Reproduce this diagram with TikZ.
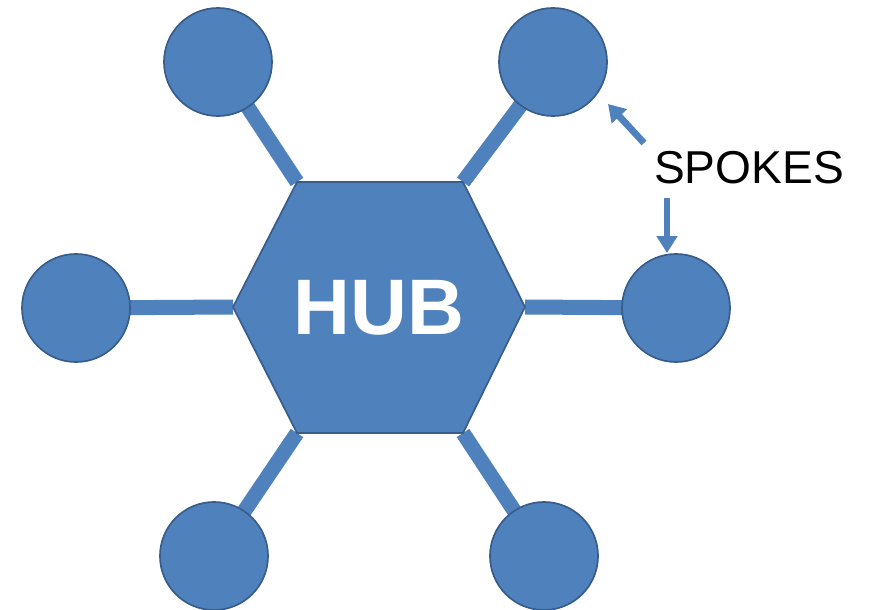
\documentclass[tikz,border=0pt]{standalone}
\usepackage{fontspec}
\setmainfont{Liberation Sans}
\usetikzlibrary{arrows.meta}
\usetikzlibrary{backgrounds}
\definecolor{hubblue}{HTML}{4F81BD}
\definecolor{hubedge}{HTML}{385D8A}

\begin{document}
\begin{tikzpicture}[x=0.025cm, y=-0.025cm,
        rim/.style={circle, fill=hubblue, draw=hubedge, line width=1.2pt, minimum size=2.7cm, inner sep=0pt},
        spoke/.style={hubblue, line width=0.375cm},
        pointer/.style={hubblue, line width=0.17cm, -{Triangle[width=0.5cm, length=0.42cm]}}]
            \useasboundingbox (0, 0) rectangle (874, 610);
            % hub corners
            \coordinate (hub-w) at (233, 307);
            \coordinate (hub-nw) at (297, 182);
            \coordinate (hub-ne) at (463, 182);
            \coordinate (hub-e) at (525, 307);
            \coordinate (hub-se) at (463, 433);
            \coordinate (hub-sw) at (297, 433);
            \draw [fill=hubblue, draw=hubedge, line width=1.2pt, line join=round]
                (hub-w) -- (hub-nw) -- (hub-ne) -- (hub-e) -- (hub-se) -- (hub-sw) -- cycle;
            \node [text=white, font=\fontsize{56}{60}\selectfont\bfseries] (hub) at (379, 308) {HUB};
            % wheels
            \node [rim] (c-nw) at (218, 62) {};
            \node [rim] (c-ne) at (553, 62) {};
            \node [rim] (c-w) at (76, 308) {};
            \node [rim] (c-e) at (676, 308) {};
            \node [rim] (c-sw) at (214, 556) {};
            \node [rim] (c-se) at (544, 556) {};
            \begin{scope}[on background layer]
                \draw [spoke] (hub-nw) -- (c-nw.center);
                \draw [spoke] (hub-ne) -- (c-ne.center);
                \draw [spoke] (hub-w) -- (c-w.center);
                \draw [spoke] (hub-e) -- (c-e.center);
                \draw [spoke] (hub-sw) -- (c-sw.center);
                \draw [spoke] (hub-se) -- (c-se.center);
            \end{scope}
            % label
            \node [font=\fontsize{32.8}{36}\selectfont] (spokes) at (749, 167.5) {SPOKES};
            \coordinate (tail-a) at (644, 143);
            \coordinate (tip-a) at (608, 104);
            \coordinate (tail-b) at (667, 198);
            \coordinate (tip-b) at (667, 253);
            \draw [pointer] (tail-a) -- (tip-a);
            \draw [pointer] (tail-b) -- (tip-b);
        \end{tikzpicture}
\end{document}
